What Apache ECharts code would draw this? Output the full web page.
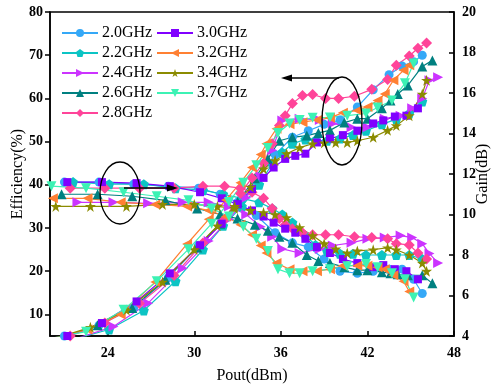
<!DOCTYPE html>
<html>
<head>
<meta charset="utf-8">
<script src="https://cdn.jsdelivr.net/npm/echarts@6/dist/echarts.min.js"></script>
<style>
  html, body { margin: 0; padding: 0; background: #fff; }
  #chart { width: 494px; height: 389px; }
</style>
</head>
<body>
<div id="chart"></div>
<script>
// Pout (dBm), drain efficiency (%) and gain (dB) for each frequency
const pout20 = [21.0, 23.4, 25.8, 28.2, 30.3, 31.8, 33.0, 34.3, 35.6, 36.8, 37.9, 39.0, 40.1, 41.3, 42.4, 43.5, 44.4, 45.2, 45.8];
const eff20  = [5, 7.5, 11.5, 18.5, 26, 31, 35.5, 41, 47, 51, 52.5, 54, 55, 58, 62, 65.5, 67.5, 68.5, 70];
const gain20 = [11.6, 11.6, 11.5, 11.4, 11.3, 11.0, 10.6, 9.95, 9.1, 8.6, 8.4, 7.8, 7.2, 7.1, 7.2, 7.3, 7.3, 6.8, 6.1];

const pout22 = [21.6, 24.1, 26.5, 28.7, 30.6, 32.0, 33.3, 34.5, 35.4, 36.1, 36.8, 37.7, 38.4, 39.2, 40.1, 41.0, 41.9, 43.0, 44.0, 44.9, 45.8];
const eff22  = [4.2, 6.5, 10.9, 17.7, 25, 30.5, 35, 40, 44.9, 47.5, 49.5, 50.5, 50.3, 50.2, 50.7, 51.5, 52.5, 54, 55.2, 56.5, 59.3];
const gain22 = [11.6, 11.5, 11.5, 11.3, 11.2, 11.0, 10.8, 10.6, 10.3, 10.0, 9.6, 8.96, 8.5, 8.2, 8.06, 8.06, 8.0, 8.0, 8.0, 8.0, 7.8];

const pout24 = [21.9, 24.4, 26.8, 29.2, 31.0, 32.4, 33.6, 34.6, 35.4, 36.1, 37.3, 38.7, 39.6, 40.9, 42.0, 43.2, 44.3, 45.1, 45.8, 46.3, 46.9];
const eff24  = [4.5, 7.2, 12.6, 20.7, 27, 32, 37, 42, 48, 54.9, 55.3, 55, 54.2, 53.3, 53.3, 55.3, 56, 57.7, 60, 64.2, 64.9];
const gain24 = [10.6, 10.6, 10.55, 10.6, 10.6, 10.4, 10.0, 9.4, 8.9, 8.3, 8.1, 8.3, 8.47, 8.6, 8.8, 8.86, 8.96, 8.86, 8.56, 8.07, 7.6];

const pout26 = [20.8, 23.3, 25.7, 28.0, 30.2, 31.8, 33.0, 34.2, 35.1, 35.9, 36.8, 37.8, 38.6, 39.4, 40.4, 41.3, 42.0, 43.0, 43.6, 44.1, 44.8, 45.8, 46.5];
const eff26  = [4.5, 7.5, 11.5, 18, 25.5, 31, 36, 41.5, 46, 50.2, 51, 51.4, 52, 52.6, 54.4, 55.3, 55.3, 57.7, 59.5, 61, 63, 67.4, 68.8];
const gain26 = [11.0, 11.0, 10.9, 10.7, 10.3, 10.0, 9.8, 9.5, 9.2, 8.9, 8.6, 8.0, 7.7, 7.6, 7.4, 7.25, 7.25, 7.15, 7.1, 7.05, 7.0, 7.0, 6.6];

const pout28 = [21.4, 23.8, 26.2, 28.6, 30.6, 32.1, 33.2, 34.0, 34.8, 35.4, 35.9, 36.3, 36.8, 37.5, 38.2, 39.1, 40.0, 41.1, 42.3, 43.4, 44.0, 44.9, 45.5, 46.1];
const eff28  = [5, 8, 12.5, 19, 26.5, 32, 38, 41.6, 45, 49.5, 53.7, 56, 58.8, 60.7, 60.9, 60, 60, 60.5, 62.1, 64.4, 67.7, 69.8, 71.6, 72.8];
const gain28 = [11.3, 11.3, 11.3, 11.3, 11.4, 11.4, 11.3, 11.1, 10.8, 10.3, 9.8, 9.5, 9.3, 9.1, 9.0, 9.0, 9.0, 8.9, 8.86, 8.8, 8.56, 8.5, 8.1, 7.8];

const pout30 = [21.2, 23.6, 26.0, 28.3, 30.4, 31.9, 33.0, 34.0, 34.8, 35.5, 36.3, 37.0, 37.7, 38.5, 39.4, 40.3, 41.3, 42.4, 43.1, 43.9, 44.7, 45.5];
const eff30  = [5, 8, 13, 19.5, 26, 31, 35.5, 39, 41.6, 44, 46, 46.7, 47.2, 49.8, 50.7, 51.5, 52.5, 54.2, 54.9, 55.8, 56, 57.7];
const gain30 = [11.6, 11.6, 11.55, 11.4, 11.1, 10.8, 10.5, 10.2, 9.9, 9.6, 9.3, 9.1, 8.8, 8.4, 8.1, 7.8, 7.6, 7.4, 7.5, 7.3, 7.2, 6.8];

const pout32 = [20.2, 22.6, 24.9, 27.3, 29.5, 31.0, 32.2, 33.2, 34.0, 34.6, 35.0, 35.7, 36.6, 37.5, 38.5, 39.4, 40.3, 41.3, 42.0, 42.7, 43.2, 43.8, 44.5, 44.9];
const eff32  = [4.5, 6.5, 10, 17.5, 26.3, 32, 36.5, 40.5, 44, 47, 49.5, 53, 54, 54.5, 55, 55.5, 56.7, 57.2, 58, 59.5, 61, 64.2, 66.5, 67.7];
const gain32 = [10.8, 10.8, 10.6, 10.5, 10.4, 10.2, 9.9, 9.5, 9.0, 8.47, 8.1, 7.6, 7.3, 7.2, 7.2, 7.3, 7.47, 7.47, 7.47, 7.4, 7.3, 7.0, 6.7, 6.2];

const pout34 = [20.4, 22.8, 25.3, 27.8, 30.0, 31.6, 32.8, 33.9, 34.8, 35.6, 36.4, 37.3, 38.2, 39.0, 39.8, 40.6, 41.3, 42.4, 43.4, 44.0, 44.9, 45.8, 46.1];
const eff34  = [4.5, 7, 11, 17.5, 25, 30.5, 35, 39.5, 43.7, 45.6, 47.2, 48.6, 49.5, 49.7, 49.8, 49.8, 50.2, 51, 52.6, 53.7, 56, 61, 64.2];
const gain34 = [10.4, 10.4, 10.4, 10.5, 10.5, 10.4, 10.3, 10.2, 10.1, 10.0, 9.85, 9.35, 8.96, 8.56, 8.3, 8.1, 8.2, 8.26, 8.36, 8.26, 8.0, 7.6, 7.2];

const pout37 = [20.1, 22.5, 25.1, 27.4, 29.6, 31.2, 32.4, 33.4, 34.3, 35.1, 35.8, 36.6, 37.3, 38.2, 39.4, 40.6, 41.9, 42.7, 43.7, 44.6, 45.2];
const eff37  = [4.5, 6, 11.1, 17.7, 25.1, 31, 36, 40.5, 44.5, 48.5, 52, 54.2, 55, 55.5, 55.6, 56, 56.5, 57.9, 59.5, 63.5, 68.1];
const gain37 = [11.4, 11.3, 11.1, 10.9, 10.7, 10.3, 9.9, 9.4, 8.8, 8.2, 7.3, 7.1, 7.1, 7.2, 7.3, 7.45, 7.56, 7.4, 7.1, 6.8, 5.9];

const freqNames = ['2.0GHz', '2.2GHz', '2.4GHz', '2.6GHz', '2.8GHz', '3.0GHz', '3.2GHz', '3.4GHz', '3.7GHz'];
const xTicks = [24, 30, 36, 42, 48];
const effTicks = [10, 20, 30, 40, 50, 60, 70, 80];

const FONT = '"Liberation Serif", "Times New Roman", serif';

// 标记形状
const TRI_RIGHT = 'path://M0,0L10,5L0,10Z';
const TRI_LEFT = 'path://M10,0L0,5L10,10Z';
const TRI_DOWN = 'path://M0,0L10,0L5,9Z';
const PENTAGON = 'path://M5,0L10,3.8L8.1,10L1.9,10L0,3.8Z';
const STAR = 'path://M5,0L6.2,3.6L10,3.6L6.9,5.9L8.1,9.5L5,7.3L1.9,9.5L3.1,5.9L0,3.6L3.8,3.6Z';

const styleList = [
  { color: '#35a8f7', symbol: 'circle', size: 9 },
  { color: '#0cc4c4', symbol: PENTAGON, size: 10 },
  { color: '#cc33ff', symbol: TRI_RIGHT, size: 10 },
  { color: '#008080', symbol: 'triangle', size: 10 },
  { color: '#ff4499', symbol: 'diamond', size: 11 },
  { color: '#8000ff', symbol: 'rect', size: 8 },
  { color: '#ff8033', symbol: TRI_LEFT, size: 10 },
  { color: '#8b8b00', symbol: STAR, size: 11 },
  { color: '#3cf2b4', symbol: TRI_DOWN, size: 10 },
];

const poutList = [pout20, pout22, pout24, pout26, pout28, pout30, pout32, pout34, pout37];
const effList = [eff20, eff22, eff24, eff26, eff28, eff30, eff32, eff34, eff37];
const gainList = [gain20, gain22, gain24, gain26, gain28, gain30, gain32, gain34, gain37];

const series = [];
freqNames.forEach((name, i) => {
  const st = styleList[i];
  const common = {
    name: name,
    type: 'line',
    symbol: st.symbol,
    symbolSize: st.size,
    itemStyle: { color: st.color },
    lineStyle: { color: st.color, width: 1.2 },
    clip: true,
    animation: false,
  };
  series.push(Object.assign({}, common, {
    yAxisIndex: 0,
    data: poutList[i].map((p, k) => [p, effList[i][k]]),
  }));
  series.push(Object.assign({}, common, {
    yAxisIndex: 1,
    data: poutList[i].map((p, k) => [p, gainList[i][k]]),
  }));
});

const legendBase = {
  orient: 'vertical',
  itemWidth: 36,
  itemHeight: 10,
  itemGap: 4,
  top: 20,
  selectedMode: false,
  textStyle: { fontFamily: FONT, fontSize: 16, color: '#000', lineHeight: 16, padding: [0, 0, 0, -1] },
};

const nameStyle = { fontFamily: FONT, fontSize: 16, color: '#000' };
const labelStyle = { fontFamily: FONT, fontSize: 14, fontWeight: 'bold', color: '#000' };

const chart = echarts.init(document.getElementById('chart'));
chart.setOption({
  backgroundColor: '#fff',
  animation: false,
  grid: {
    left: 50, right: 40, top: 12, bottom: 53,
    outerBoundsMode: 'none',
    show: true, borderColor: '#000', borderWidth: 1.5, backgroundColor: 'transparent',
  },
  legend: [
    Object.assign({}, legendBase, { left: 56, data: freqNames.slice(0, 5) }),
    Object.assign({}, legendBase, { left: 151, data: freqNames.slice(5) }),
  ],
  xAxis: {
    type: 'value',
    min: 20,
    max: 48,
    name: 'Pout(dBm)',
    nameLocation: 'middle',
    nameGap: 32,
    nameMoveOverlap: false,
    nameTextStyle: nameStyle,
    axisLine: { lineStyle: { color: '#000', width: 1.5 } },
    axisTick: { inside: true, length: 5, lineStyle: { color: '#000', width: 1.5 }, customValues: xTicks },
    axisLabel: Object.assign({ customValues: xTicks, margin: 10 }, labelStyle),
    splitLine: { show: false },
  },
  yAxis: [
    {
      type: 'value',
      min: 5,
      max: 80,
      name: 'Efficiency(%)',
      nameLocation: 'middle',
      nameGap: 24,
      nameMoveOverlap: false,
      nameTextStyle: nameStyle,
      axisLine: { show: true, lineStyle: { color: '#000', width: 1.5 } },
      axisTick: { show: true, inside: false, length: 5, lineStyle: { color: '#000', width: 1.5 }, customValues: effTicks },
      axisLabel: Object.assign({ customValues: effTicks, margin: 7 }, labelStyle),
      splitLine: { show: false },
    },
    {
      type: 'value',
      min: 4,
      max: 20,
      interval: 2,
      position: 'right',
      name: 'Gain(dB)',
      nameLocation: 'middle',
      nameGap: 21,
      nameRotate: 90,
      nameMoveOverlap: false,
      nameTextStyle: nameStyle,
      axisLine: { show: true, lineStyle: { color: '#000', width: 1.5 } },
      axisTick: { show: true, inside: true, length: 5, lineStyle: { color: '#000', width: 1.5 } },
      axisLabel: Object.assign({ margin: 8 }, labelStyle),
      splitLine: { show: false },
    },
  ],
  graphic: [
    // 左侧椭圆与箭头(指向增益轴)
    { type: 'ellipse', shape: { cx: 120, cy: 193, rx: 20, ry: 31 }, style: { fill: 'none', stroke: '#000', lineWidth: 1.3 }, z: 100 },
    { type: 'line', shape: { x1: 124, y1: 188, x2: 172, y2: 188 }, style: { stroke: '#000', lineWidth: 1.3 }, z: 100 },
    { type: 'polygon', shape: { points: [[178, 188], [167, 184.5], [167, 191.5]] }, style: { fill: '#000' }, z: 100 },
    // 右侧椭圆与箭头(指向效率轴)
    { type: 'ellipse', shape: { cx: 342, cy: 121, rx: 20, ry: 44 }, style: { fill: 'none', stroke: '#000', lineWidth: 1.3 }, z: 100 },
    { type: 'line', shape: { x1: 290, y1: 78, x2: 339, y2: 78 }, style: { stroke: '#000', lineWidth: 1.3 }, z: 100 },
    { type: 'polygon', shape: { points: [[281, 78], [292, 74.5], [292, 81.5]] }, style: { fill: '#000' }, z: 100 },
  ],
  series: series,
});
</script>
</body>
</html>
